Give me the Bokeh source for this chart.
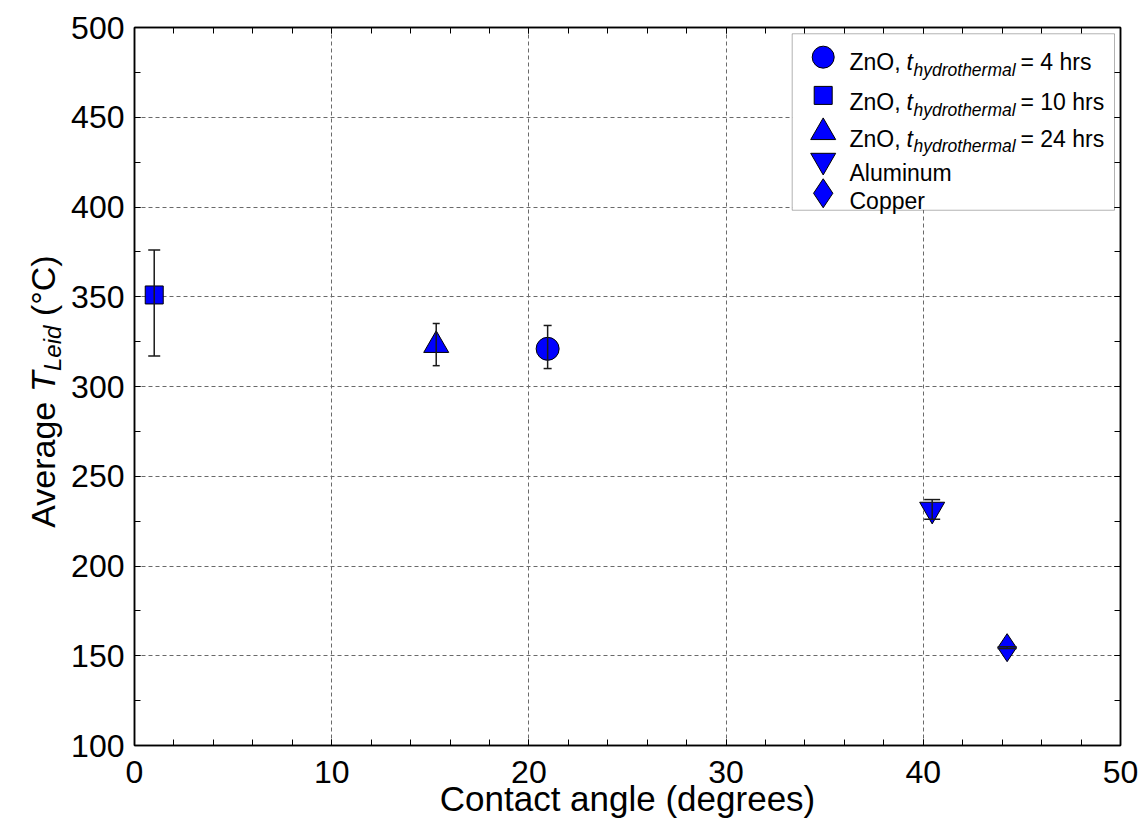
import math
from bokeh.plotting import figure
from bokeh.layouts import row
from bokeh.models import (ColumnDataSource, Range1d, LinearAxis, SingleIntervalTicker,
                          Whisker, TeeHead, Label, BoxAnnotation, CustomJSTickFormatter)
from bokeh.embed import file_html
from bokeh.resources import INLINE

# ---------------- data ----------------
series_names = ["ZnO 4 hrs", "ZnO 10 hrs", "ZnO 24 hrs", "Aluminum", "Copper"]
contact_angle = [20.95, 1.0, 15.3, 40.45, 44.25]
avg_t_leid = [321.0, 351.0, 323.0, 231.5, 154.5]
err_low = [310.0, 317.0, 311.6, 226.0, 154.0]
err_high = [334.0, 376.0, 335.1, 237.0, 155.0]
zno_hours = [4, 10, 24]
metal_names = ["Aluminum", "Copper"]
x_label = "Contact angle (degrees)"
y_label_parts = ["Average", "T", "Leid", "(°C)"]
x_limits = [0, 50]
y_limits = [100, 500]

# ---------------- style / layout ----------------
FONT = "Liberation Sans"
W, H = 1141, 820
LEFT_W = 66                                   # strip holding the y-axis title
FL, FT, FR, FB = 134, 27, 1120, 746          # frame edges in page px
markers = ["circle", "square", "triangle", "inverted_triangle", "diamond"]
plot_sizes = [23, 18, 25, 25, 28]
legend_sizes = [22, 18, 25, 25, 29]
cap_sizes = [8, 12, 7, 16, 19]
BLUE = "#0000ff"

p = figure(width=W - LEFT_W, height=H, x_range=Range1d(*x_limits), y_range=Range1d(*y_limits),
           output_backend="svg", toolbar_location=None,
           min_border_left=FL - LEFT_W, min_border_right=W - FR,
           min_border_top=FT, min_border_bottom=H - FB)
p.background_fill_color = "white"
p.border_fill_color = "white"
p.outline_line_color = "black"
p.outline_line_width = 1.5

xt = SingleIntervalTicker(interval=10, num_minor_ticks=5)
yt = SingleIntervalTicker(interval=50, num_minor_ticks=2)
p.xaxis.ticker = xt
p.yaxis.ticker = yt
p.xgrid.ticker = xt
p.ygrid.ticker = yt
for g in (p.xgrid[0], p.ygrid[0]):
    g.grid_line_color = "#6a6a6a"
    g.grid_line_dash = "4 3"
    g.grid_line_width = 1

def style_axis(ax):
    ax.axis_line_color = "black"
    ax.axis_line_width = 1.5
    ax.major_tick_in = 6
    ax.major_tick_out = 0
    ax.minor_tick_in = 6
    ax.minor_tick_out = 0
    ax.major_tick_line_color = "black"
    ax.minor_tick_line_color = "black"
    ax.major_tick_line_width = 1
    ax.minor_tick_line_width = 1
    ax.major_label_text_font = FONT
    ax.major_label_text_font_size = "32px"
    ax.major_label_text_color = "black"

xa = p.xaxis[0]
ya = p.yaxis[0]
style_axis(xa)
style_axis(ya)
xa.major_label_standoff = 15
ya.major_label_standoff = 10
xa.axis_label = x_label
xa.axis_label_text_font = FONT
xa.axis_label_text_font_size = "35px"
xa.axis_label_text_font_style = "normal"
xa.axis_label_text_color = "black"
xa.axis_label_standoff = -7

for loc, tk in (("above", xt), ("right", yt)):
    ax = LinearAxis(ticker=tk, formatter=CustomJSTickFormatter(code="return ''"))
    style_axis(ax)
    ax.major_label_text_font_size = "1px"
    ax.major_label_standoff = 0
    p.add_layout(ax, loc)

# pixel coordinate system relative to frame top-left (for legend layout)
p.extra_x_ranges = {"px": Range1d(0, FR - FL)}
p.extra_y_ranges = {"px": Range1d(FB - FT, 0)}

# ---------------- data marks ----------------
for i in range(len(series_names)):
    p.scatter(x=[contact_angle[i]], y=[avg_t_leid[i]], marker=markers[i], size=plot_sizes[i],
              fill_color=BLUE, line_color="black", line_width=1)
    src = ColumnDataSource(dict(base=[contact_angle[i]], lower=[err_low[i]], upper=[err_high[i]]))
    w = Whisker(source=src, base="base", lower="lower", upper="upper", dimension="height",
                line_color="#1a1a1a", line_width=1.5, level="annotation",
                upper_head=TeeHead(size=cap_sizes[i], line_color="#1a1a1a", line_width=1.5),
                lower_head=TeeHead(size=cap_sizes[i], line_color="#1a1a1a", line_width=1.5))
    p.add_layout(w)

# ---------------- legend (manual, px coords relative to frame) ----------------
box = BoxAnnotation(left=791.7 - FL, right=1114 - FL, top=33.3 - FT, bottom=210 - FT,
                    x_range_name="px", y_range_name="px",
                    fill_color="white", fill_alpha=1.0, line_color="black", line_width=1,
                    level="underlay")
p.add_layout(box)

leg_mx = 822.7 - FL
leg_my = [56.7 - FT, 95 - FT, 132 - FT, 160.2 - FT, 193 - FT]
leg_base = [61.7 - FT, 101.7 - FT, 138.3 - FT, 172.7 - FT, 201 - FT]
for i in range(len(series_names)):
    p.scatter(x=[leg_mx], y=[leg_my[i]], x_range_name="px", y_range_name="px",
              marker=markers[i], size=legend_sizes[i],
              fill_color=BLUE, line_color="black", line_width=1)

def lbl(fig, x, y, text, size, style="normal", angle=0.0, rng="px"):
    kw = dict(x_range_name=rng, y_range_name=rng) if rng else {}
    fig.add_layout(Label(x=x, y=y, text=text, text_font=FONT, text_font_size=size,
                         text_font_style=style, text_color="black", text_align="left",
                         text_baseline="alphabetic", angle=angle, **kw))

tx0 = 849 - FL
for i, hrs in enumerate(zno_hours):
    b = leg_base[i]
    lbl(p, tx0, b, "ZnO,", "23px")
    lbl(p, 906 - FL, b, "t", "23px", "italic")
    lbl(p, 913 - FL, b + 7.5, "hydrothermal", "17.5px", "italic")
    lbl(p, 1020 - FL, b, "= %d hrs" % hrs, "23px")
for j, name in enumerate(metal_names):
    lbl(p, tx0, leg_base[3 + j], name, "23px")

# ---------------- y axis title strip (with subscript) ----------------
# the row layout aligns this strip's frame with the main frame (page y FT..FB),
# so its y range is set to page pixel rows
lf = figure(width=LEFT_W, height=H, x_range=Range1d(0, LEFT_W), y_range=Range1d(FB, FT),
            output_backend="svg", toolbar_location=None,
            x_axis_location=None, y_axis_location=None,
            min_border_left=0, min_border_right=0, min_border_top=FT, min_border_bottom=H - FB)
lf.grid.visible = False
lf.outline_line_color = None
lf.background_fill_color = "white"
lf.border_fill_color = "white"
ybx = 42
lbl(lf, ybx, 528, y_label_parts[0], "34px", angle=math.pi / 2, rng=None)
lbl(lf, ybx, 392, y_label_parts[1], "34px", "italic", angle=math.pi / 2, rng=None)
lbl(lf, ybx + 10, 371, y_label_parts[2], "24px", "italic", angle=math.pi / 2, rng=None)
lbl(lf, ybx, 316, y_label_parts[3], "34px", angle=math.pi / 2, rng=None)

layout = row(lf, p, spacing=0)
open("out.html", "w").write(file_html(layout, INLINE))
